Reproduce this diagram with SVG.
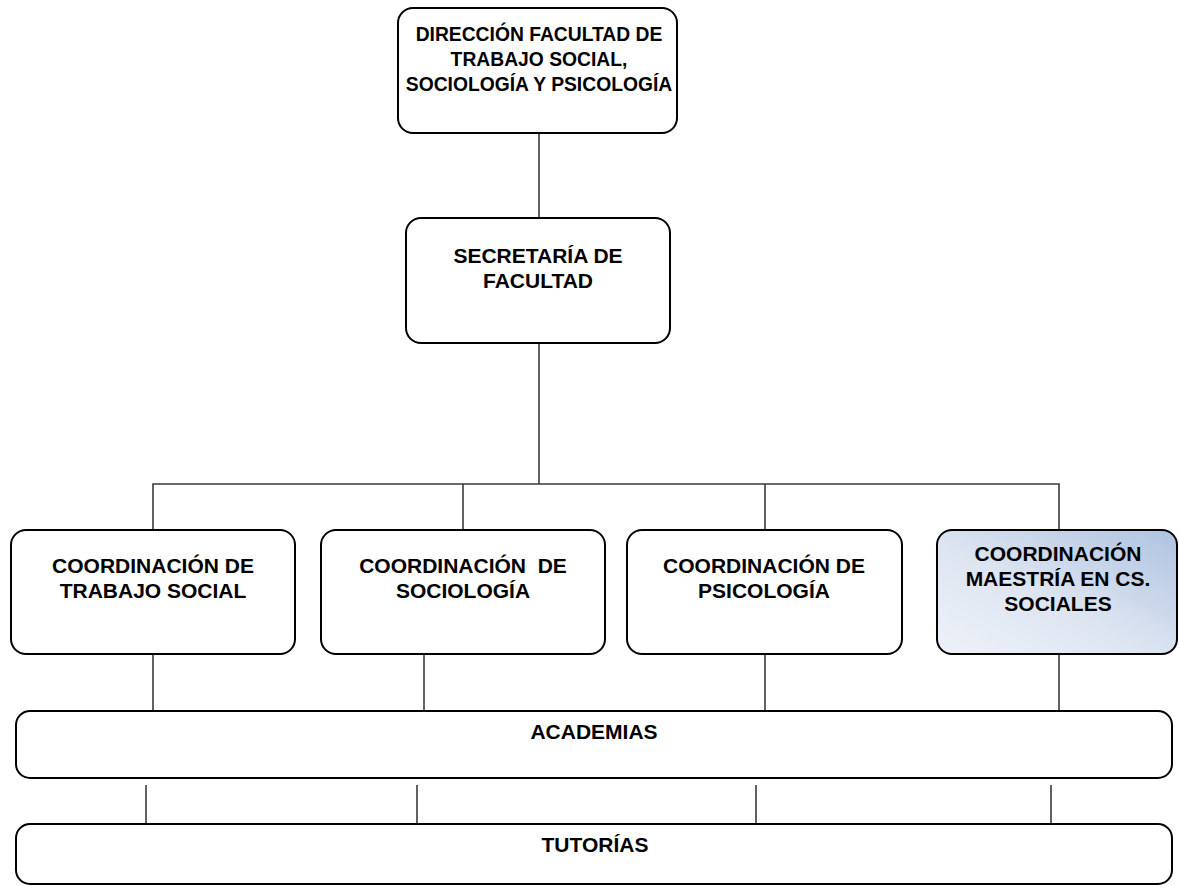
<svg xmlns="http://www.w3.org/2000/svg" width="1179" height="886" viewBox="0 0 1179 886">
  <style>
    .box { fill: #ffffff; stroke: #000000; stroke-width: 2; }
    .link { fill: none; stroke: #3a3a3a; stroke-width: 1.6; }
    .lbl { font-family: "Liberation Sans", Arial, sans-serif; font-weight: bold; font-size: 21px; fill: #000000; text-anchor: middle; white-space: pre; }
    .top { font-size: 19.3px; }
  </style>
  <defs>
    <linearGradient id="blueFill" x1="0" y1="1" x2="1" y2="0">
      <stop offset="0" stop-color="#eef2f9"/>
      <stop offset="0.45" stop-color="#dde5f1"/>
      <stop offset="1" stop-color="#aec2e0"/>
    </linearGradient>
  </defs>
  <rect width="1179" height="886" fill="#ffffff"/>

  <!-- connectors -->
  <g id="connectors">
    <line class="link" x1="539" y1="133" x2="539" y2="218"/>
    <line class="link" x1="539" y1="343" x2="539" y2="484"/>
    <polyline class="link" points="153,530 153,484 1059,484 1059,530"/>
    <line class="link" x1="463" y1="484" x2="463" y2="530"/>
    <line class="link" x1="765" y1="484" x2="765" y2="530"/>
    <line class="link" x1="153" y1="654" x2="153" y2="711"/>
    <line class="link" x1="424" y1="654" x2="424" y2="711"/>
    <line class="link" x1="765" y1="654" x2="765" y2="711"/>
    <line class="link" x1="1059" y1="654" x2="1059" y2="711"/>
    <line class="link" x1="146" y1="785" x2="146" y2="824"/>
    <line class="link" x1="417" y1="785" x2="417" y2="824"/>
    <line class="link" x1="756" y1="785" x2="756" y2="824"/>
    <line class="link" x1="1051" y1="785" x2="1051" y2="824"/>
  </g>

  <g id="direccion">
    <rect class="box" x="398" y="8" width="279" height="125" rx="15"/>
    <text class="lbl top" x="539" y="41">DIRECCIÓN FACULTAD DE</text>
    <text class="lbl top" x="539" y="66">TRABAJO SOCIAL,</text>
    <text class="lbl top" x="539" y="91">SOCIOLOGÍA Y PSICOLOGÍA</text>
  </g>

  <g id="secretaria">
    <rect class="box" x="406" y="218" width="264" height="125" rx="15"/>
    <text class="lbl" x="538" y="263">SECRETARÍA DE</text>
    <text class="lbl" x="538" y="288">FACULTAD</text>
  </g>

  <g id="coord-trabajo-social">
    <rect class="box" x="11" y="530" width="284" height="124" rx="15"/>
    <text class="lbl" x="153" y="573">COORDINACIÓN DE</text>
    <text class="lbl" x="153" y="598">TRABAJO SOCIAL</text>
  </g>

  <g id="coord-sociologia">
    <rect class="box" x="321" y="530" width="284" height="124" rx="15"/>
    <text class="lbl" x="463" y="573">COORDINACIÓN  DE</text>
    <text class="lbl" x="463" y="598">SOCIOLOGÍA</text>
  </g>

  <g id="coord-psicologia">
    <rect class="box" x="627" y="530" width="275" height="124" rx="15"/>
    <text class="lbl" x="764" y="573">COORDINACIÓN DE</text>
    <text class="lbl" x="764" y="598">PSICOLOGÍA</text>
  </g>

  <g id="coord-maestria">
    <rect class="box" x="937" y="530" width="240" height="124" rx="15" style="fill:url(#blueFill)"/>
    <text class="lbl" x="1058" y="561">COORDINACIÓN</text>
    <text class="lbl" x="1058" y="586">MAESTRÍA EN CS.</text>
    <text class="lbl" x="1058" y="611">SOCIALES</text>
  </g>

  <g id="academias">
    <rect class="box" x="16" y="711" width="1156" height="67" rx="14"/>
    <text class="lbl" x="594" y="739">ACADEMIAS</text>
  </g>

  <g id="tutorias">
    <rect class="box" x="16" y="824" width="1156" height="60" rx="14"/>
    <text class="lbl" x="595" y="852">TUTORÍAS</text>
  </g>
</svg>
